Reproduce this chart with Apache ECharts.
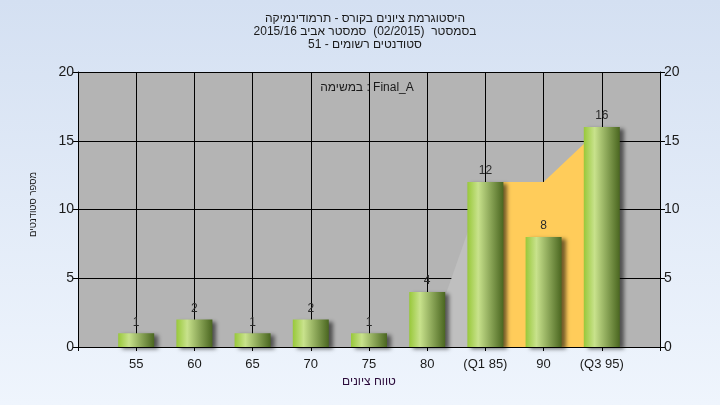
<!DOCTYPE html>
<html dir="ltr">
<head>
<meta charset="utf-8">
<script src="https://cdn.jsdelivr.net/npm/echarts@6/dist/echarts.min.js"></script>
<style>html,body{margin:0;padding:0;}#c{width:720px;height:405px;}</style>
</head>
<body>
<div id="c" dir="ltr"></div>
<script>
// ---- data ----
const xValues = [55, 60, 65, 70, 75, 80, 85, 90, 95];
const categories = ['55', '60', '65', '70', '75', '80', '(Q1 85)', '90', '(Q3 95)'];
const counts = [1, 2, 1, 2, 1, 4, 12, 8, 16];
const bandX = [80, 85, 90, 95];
const bandValues = [0, 12, 12, 16];
const yTicks = [0, 5, 10, 15, 20];
const titleLines = [
  'היסטוגרמת ציונים בקורס - תרמודינמיקה',
  'בסמסטר  (02/2015)  סמסטר אביב 2015/16',
  'סטודנטים רשומים - 51'
];
const subText = 'במשימה : Final_A';
const xName = 'טווח ציונים';
const yName = 'מספר סטודנטים';

const FONT = 'Liberation Sans';
const chart = echarts.init(document.getElementById('c'));
const barGrad = new echarts.graphic.LinearGradient(0, 0, 1, 0, [
  { offset: 0, color: '#98C83A' },
  { offset: 0.3, color: '#C8E28C' },
  { offset: 1, color: '#4A6620' }
]);
const faint = bandX.slice(0, 2).map((x, i) => [x, bandValues[i]]);
const yellow = bandX.slice(1).map((x, i) => [x, bandValues[i + 1]]);

chart.setOption({
  animation: false,
  backgroundColor: new echarts.graphic.LinearGradient(0, 0, 0, 1, [
    { offset: 0, color: '#D4E0F2' },
    { offset: 1, color: '#EFF5FD' }
  ]),
  textStyle: { fontFamily: FONT },
  title: [
    {
      text: titleLines.join('\n'),
      left: 360, top: 7, textAlign: 'center',
      textStyle: { fontSize: 12, fontWeight: 'normal', color: '#1a1a1a', lineHeight: 13, fontFamily: FONT }
    },
    {
      text: subText,
      left: 362, top: 77, textAlign: 'center',
      textStyle: { fontSize: 12, fontWeight: 'normal', color: '#1a1a1a', fontFamily: FONT }
    }
  ],
  grid: { left: 78, right: 60, top: 72, bottom: 58, show: true, backgroundColor: '#B4B4B4', borderWidth: 0 },
  xAxis: {
    type: 'value', min: 50, max: 100, interval: 5,
    name: xName, nameLocation: 'middle', nameGap: 28,
    nameTextStyle: { fontSize: 12, color: '#2a0a3a', fontFamily: FONT },
    axisLine: { show: true, lineStyle: { color: '#000', width: 1 } },
    axisTick: { show: true, length: 4, lineStyle: { color: '#000' } },
    axisLabel: {
      fontSize: 13, color: '#1a1a1a', margin: 11, fontFamily: FONT,
      showMinLabel: true, showMaxLabel: true,
      formatter: v => { const i = xValues.indexOf(v); return i >= 0 ? categories[i] : ''; }
    },
    splitLine: { show: true, lineStyle: { color: '#000', width: 1 } }
  },
  yAxis: [
    {
      type: 'value', min: yTicks[0], max: yTicks[yTicks.length - 1], interval: 5,
      name: yName, nameLocation: 'middle', nameGap: 40, nameRotate: 90,
      nameTextStyle: { fontSize: 9.5, color: '#1a1a1a', fontFamily: FONT, padding: [0, 0, 0, 10] },
      axisLine: { show: true, lineStyle: { color: '#000' } },
      axisTick: { show: true, length: 5, lineStyle: { color: '#000' } },
      axisLabel: { fontSize: 14, color: '#1a1a1a', margin: 4, fontFamily: FONT },
      splitLine: { show: true, lineStyle: { color: '#000', width: 1 } }
    },
    {
      type: 'value', position: 'right', min: yTicks[0], max: yTicks[yTicks.length - 1], interval: 5,
      axisLine: { show: true, lineStyle: { color: '#000' } },
      axisTick: { show: true, length: 5, lineStyle: { color: '#000' } },
      axisLabel: { fontSize: 14, color: '#1a1a1a', margin: 4, fontFamily: FONT },
      splitLine: { show: false }
    }
  ],
  series: [
    {
      type: 'line', data: faint, symbol: 'none', z: 1,
      lineStyle: { width: 0 }, areaStyle: { color: '#BFBFBF', opacity: 1 }
    },
    {
      type: 'line', data: yellow, symbol: 'none', z: 1,
      lineStyle: { width: 0 }, areaStyle: { color: '#FFCC5A', opacity: 1 }
    },
    {
      type: 'bar', z: 3, barWidth: 36,
      data: xValues.map((x, i) => [x, counts[i]]),
      itemStyle: {
        color: barGrad,
        shadowColor: 'rgba(0,0,0,0.55)', shadowBlur: 4, shadowOffsetX: 4, shadowOffsetY: 2
      },
      label: { show: true, position: 'top', distance: 5, fontSize: 12, color: '#2a2a2a', fontFamily: FONT,
        formatter: p => p.value[1] }
    }
  ]
});
</script>
</body>
</html>
